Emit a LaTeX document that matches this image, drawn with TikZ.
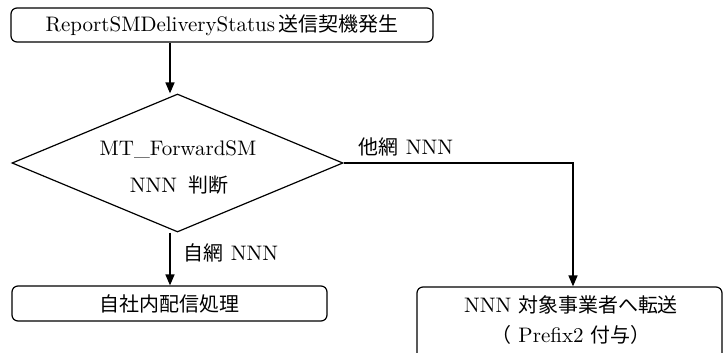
\documentclass[tikz,border=0pt]{standalone}
\usepackage{fontspec}
\usepackage{tikz}
\usetikzlibrary{shapes.geometric,arrows.meta}
\setmainfont{lmroman10-regular.otf}
\newfontfamily\jp{Noto Sans CJK JP}[Scale=0.95]

\begin{document}
\begin{tikzpicture}[x=1pt,y=-1pt,
	font=\fontsize{21}{30}\selectfont,
	box/.style={draw,line width=1.2pt,rounded corners=6pt,inner sep=0pt},
	flow/.style={line width=1.6pt,-{Triangle[length=11pt,width=9pt]}}]
	\useasboundingbox (0,0) rectangle (724,353);
	\node[box,minimum width=422pt,minimum height=34pt] (start) at (222,25) {ReportSMDeliveryStatus\,{\jp 送信契機発生}};
	\node[draw,diamond,line width=1.2pt,minimum width=331pt,minimum height=138pt,inner sep=0pt] (judge) at (177.5,163) {};
	\node (judgetop) at (178,150) {MT\_ForwardSM};
	\node (judgebot) at (179,185) {NNN\hspace{4pt} {\jp 判断}};
	\node[box,minimum width=315pt,minimum height=35pt] (local) at (169.5,303.5) {{\jp 自社内配信処理}};
	\node[box,minimum width=305pt,minimum height=73pt] (transfer) at (569.5,323.5) {};
	\node[align=center] (transfertext) at (571,320) {NNN {\jp 対象事業者へ転送}\\{\jp （} Prefix2 {\jp 付与）}};
	\node (other) at (406,147) {{\jp 他網} NNN};
	\node (own) at (231,253) {{\jp 自網} NNN};
	\coordinate (stem) at (170,0);
	\coordinate (turn) at (573,163);
	\draw[flow] (start.south -| stem) -- (judge.north -| stem);
	\draw[flow] (judge.south -| stem) -- (local.north -| stem);
	\draw[flow] (judge.east) -- (turn) -- (turn |- transfer.north);
\end{tikzpicture}
\end{document}
